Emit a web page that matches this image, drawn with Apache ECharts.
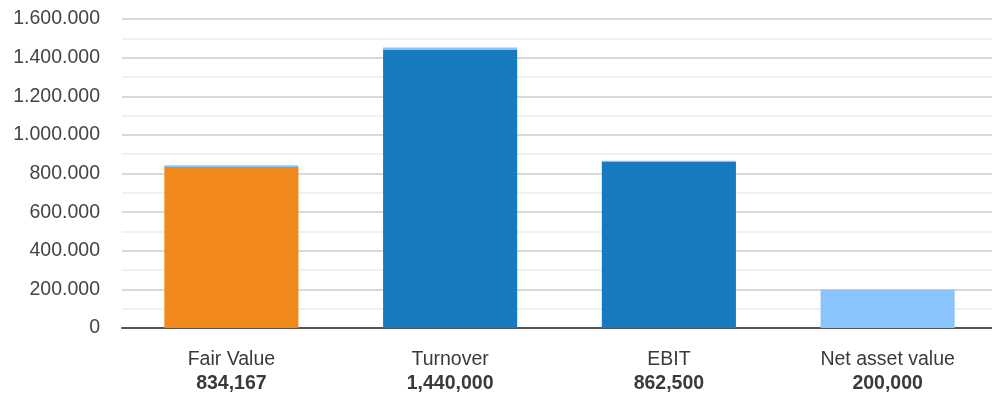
<!DOCTYPE html>
<html>
<head>
<meta charset="utf-8">
<script src="https://cdn.jsdelivr.net/npm/echarts@6/dist/echarts.min.js"></script>
<style>html,body{margin:0;padding:0;background:#fff;overflow:hidden}#c{width:997px;height:394px}</style>
</head>
<body>
<div id="c"></div>
<script>
const categories = ['Fair Value', 'Turnover', 'EBIT', 'Net asset value'];
const mainValues = [834167, 1440000, 862500, 200000];
const topValues = [8000, 12000, 4000, 0];
const barColors = ['#F0891A', '#1779BE', '#1779BE', '#8AC4FD'];
const yTicks = [0, 200000, 400000, 600000, 800000, 1000000, 1200000, 1400000, 1600000];

const chart = echarts.init(document.getElementById('c'));
const fmtDot = v => String(v).replace(/\B(?=(\d{3})+(?!\d))/g, '.');
const fmtComma = v => String(v).replace(/\B(?=(\d{3})+(?!\d))/g, ',');
const FONT = 'Arial, Liberation Sans, sans-serif';

chart.setOption({
  animation: false,
  grid: { left: 122, right: 0, top: 19, bottom: 66, containLabel: false },
  xAxis: {
    type: 'category',
    data: categories,
    axisLine: { show: true, lineStyle: { color: '#555', width: 2 } },
    axisTick: { show: false },
    axisLabel: {
      margin: 20,
      interval: 0,
      formatter: (v, i) => '{a|' + v + '}\n{b|' + fmtComma(mainValues[i]) + '}',
      rich: {
        a: { fontFamily: FONT, fontSize: 19.5, color: '#3a3a3a', lineHeight: 23.5 },
        b: { fontFamily: FONT, fontSize: 19.5, fontWeight: 'bold', color: '#3a3a3a', lineHeight: 23.5 }
      }
    }
  },
  yAxis: {
    type: 'value',
    min: yTicks[0],
    max: yTicks[yTicks.length - 1],
    interval: yTicks[1] - yTicks[0],
    axisLine: { show: false },
    axisTick: { show: false },
    axisLabel: {
      margin: 22,
      fontFamily: FONT,
      fontSize: 19.5,
      color: '#444',
      formatter: v => fmtDot(v)
    },
    splitLine: { show: true, lineStyle: { color: '#cccccc', width: 1.5 } },
    minorTick: { show: false, splitNumber: 2 },
    minorSplitLine: { show: true, lineStyle: { color: '#ececec', width: 1.5 } }
  },
  series: [
    {
      type: 'bar',
      stack: 's',
      barWidth: '61.3%',
      data: mainValues.map((v, i) => ({ value: v, itemStyle: { color: barColors[i] } }))
    },
    {
      type: 'bar',
      stack: 's',
      barWidth: '61.3%',
      itemStyle: { color: '#8AC4FD' },
      data: topValues
    }
  ]
});
</script>
</body>
</html>
